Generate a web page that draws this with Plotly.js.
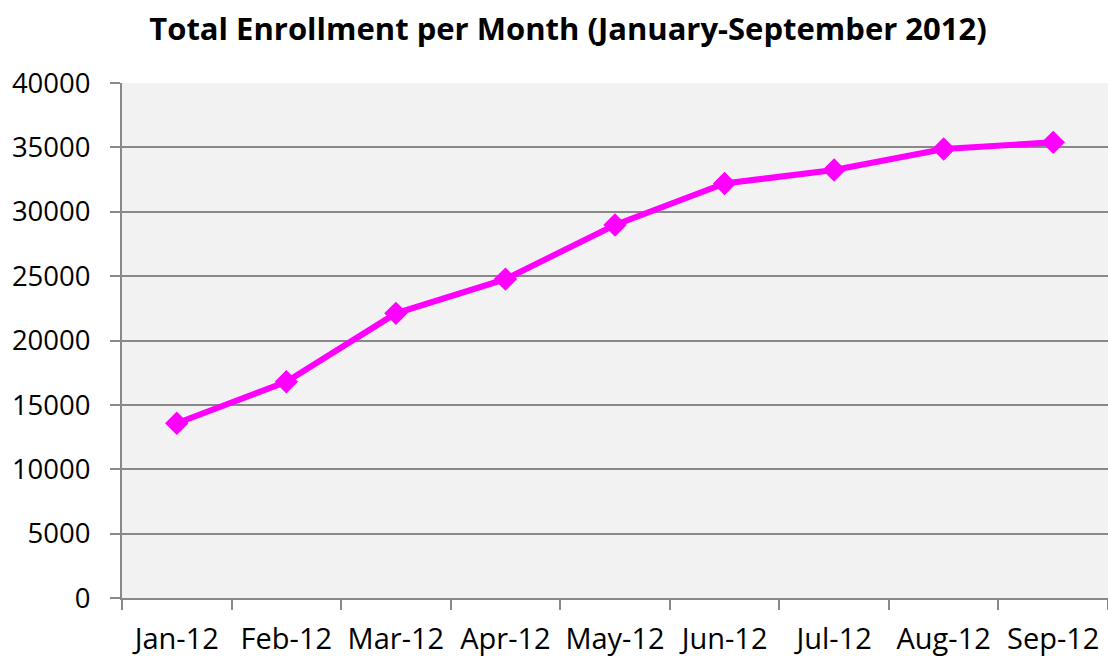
<!DOCTYPE html>
<html>
<head>
<meta charset="utf-8">
<script src="https://cdn.plot.ly/plotly-3.0.1.min.js"></script>
<style>html,body{margin:0;padding:0;background:#fff;}#chart{width:1108px;height:656px;}</style>
</head>
<body>
<div id="chart"></div>
<script>
const months = ["Jan-12","Feb-12","Mar-12","Apr-12","May-12","Jun-12","Jul-12","Aug-12","Sep-12"];
const enrollment = [13570, 16800, 22110, 24770, 28970, 32200, 33240, 34870, 35390];
const yTicks = [0, 5000, 10000, 15000, 20000, 25000, 30000, 35000, 40000];
const chartTitle = "Total Enrollment per Month (January-September 2012)";

const font = "Open Sans, Noto Sans, sans-serif";
Plotly.newPlot("chart", [{
  x: months,
  y: enrollment,
  type: "scatter",
  mode: "lines+markers",
  line: {color: "#ff00ff", width: 6},
  marker: {symbol: "diamond", size: 18, color: "#ff00ff"},
  hoverinfo: "x+y"
}], {
  width: 1108, height: 656,
  margin: {l: 122, r: 0, t: 83, b: 58},
  paper_bgcolor: "#ffffff",
  plot_bgcolor: "#f2f2f2",
  showlegend: false,
  title: {
    text: "<b>" + chartTitle + "</b>",
    font: {family: font, size: 31, color: "#000"},
    x: 568/1108, xref: "container", xanchor: "center",
    y: 1 - 29/656, yref: "container", yanchor: "middle"
  },
  xaxis: {
    type: "category",
    tickson: "boundaries",
    ticks: "outside", ticklen: 10, tickwidth: 2, tickcolor: "#898989",
    showline: true, linecolor: "#898989", linewidth: 2,
    showgrid: false, zeroline: false,
    tickfont: {family: font, size: 29, color: "#000"},
    ticklabelstandoff: 14,
    range: [-0.5, 8.5]
  },
  yaxis: {
    range: [0, 40000],
    tickvals: yTicks,
    ticktext: yTicks.map(String),
    ticks: "outside", ticklen: 10, tickwidth: 2, tickcolor: "#898989",
    showline: true, linecolor: "#898989", linewidth: 2,
    showgrid: true, gridcolor: "#898989", gridwidth: 2,
    zeroline: false,
    tickfont: {family: font, size: 27.5, color: "#000"},
    ticklabelstandoff: 14
  }
}, {displayModeBar: false, staticPlot: true});
</script>
</body>
</html>
